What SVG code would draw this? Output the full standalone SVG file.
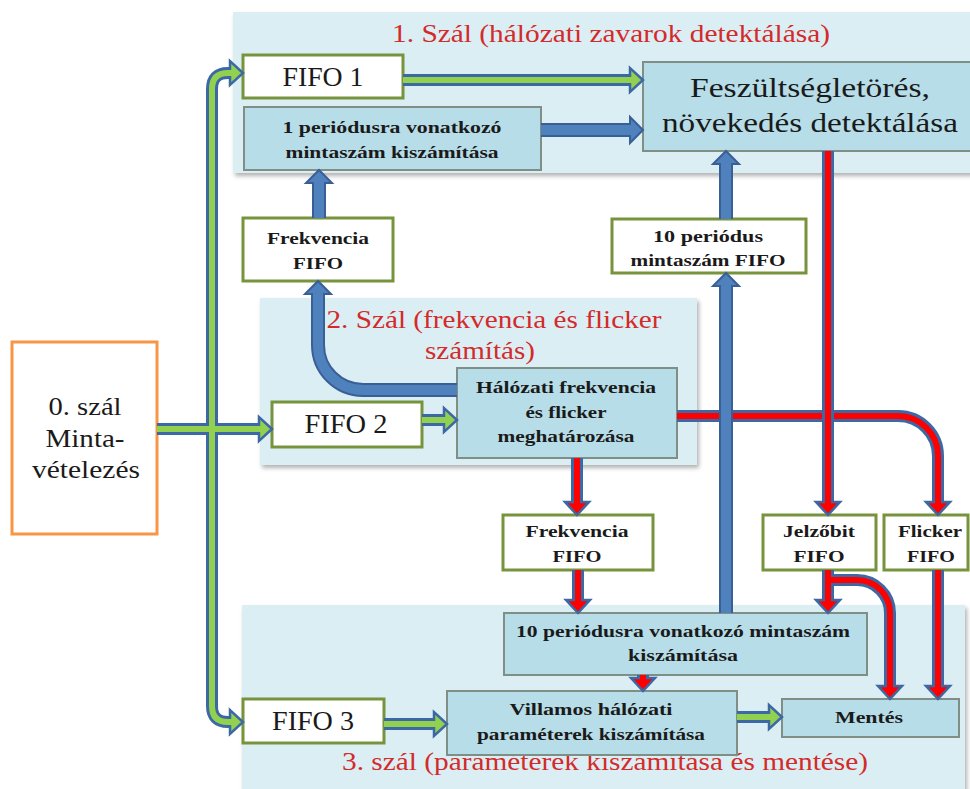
<svg xmlns="http://www.w3.org/2000/svg" width="970" height="789" viewBox="0 0 970 789" font-family="'Liberation Serif', 'Times New Roman', serif">
<defs>
<filter id="sh" x="-5%" y="-5%" width="110%" height="115%">
<feDropShadow dx="2" dy="3" stdDeviation="2" flood-color="#000" flood-opacity="0.3"/>
</filter>
<marker id="mg" markerUnits="userSpaceOnUse" orient="auto" viewBox="-2 -15 17 30" markerWidth="17" markerHeight="30" refX="0" refY="0" overflow="visible">
<path d="M0,-3 L0,-12 L13,0 L0,12 L0,3" fill="#92d050" stroke="#3c68a5" stroke-width="2.5" stroke-linejoin="miter"/>
</marker>
<marker id="mr" markerUnits="userSpaceOnUse" orient="auto" viewBox="-2 -15 17 30" markerWidth="17" markerHeight="30" refX="0" refY="0" overflow="visible">
<path d="M0,-3 L0,-12 L13,0 L0,12 L0,3" fill="#ff0000" stroke="#3c68a5" stroke-width="2.5" stroke-linejoin="miter"/>
</marker>
<marker id="mb" markerUnits="userSpaceOnUse" orient="auto" viewBox="-2 -15 17 30" markerWidth="17" markerHeight="30" refX="0" refY="0" overflow="visible">
<path d="M0,-5 L0,-13 L13,0 L0,13 L0,5" fill="#4f81bd" stroke="#3a5f96" stroke-width="2" stroke-linejoin="miter"/>
</marker>
</defs>
<style>
.panel{fill:#dbeef4;filter:url(#sh)}
.title{font-family:'Liberation Serif','Times New Roman',serif;fill:#d42a2a;text-anchor:middle}
.fifo{fill:#ffffff;stroke:#77933c;stroke-width:3}
.proc{fill:#b7dde8;stroke:#7f8f86;stroke-width:2}
.src{fill:#ffffff;stroke:#f79646;stroke-width:3}
.t{font-family:'Liberation Serif','Times New Roman',serif;fill:#1a1a1a;text-anchor:middle}
.b{font-weight:bold;font-size:17px}
.big{font-size:27px}
.go,.ro{fill:none;stroke:#3c68a5;stroke-width:12}
.gi{fill:none;stroke:#92d050;stroke-width:6}
.ri{fill:none;stroke:#ff0000;stroke-width:6}
.bo{fill:none;stroke:#3a5f96;stroke-width:14}
.bi{fill:none;stroke:#4f81bd;stroke-width:10}
.go{marker-end:url(#mg)}
.ro{marker-end:url(#mr)}
.bo{marker-end:url(#mb)}
</style>
<rect width="970" height="789" fill="#ffffff"/>

<g id="panel-1">
<rect class="panel" x="233" y="12" width="740" height="161"/>
<text class="title" x="611" y="42" font-size="25" textLength="438" lengthAdjust="spacingAndGlyphs">1. Szál (hálózati zavarok detektálása)</text>
</g>
<g id="panel-2">
<rect class="panel" x="260" y="298" width="437" height="167"/>
<text class="title" x="494" y="328" font-size="26" textLength="335" lengthAdjust="spacingAndGlyphs">2. Szál (frekvencia és flicker</text>
<text class="title" x="480" y="359" font-size="26" textLength="110" lengthAdjust="spacingAndGlyphs">számítás)</text>
</g>
<g id="panel-3">
<rect class="panel" x="242" y="605" width="723" height="190"/>
<text class="title" x="605" y="770" font-size="25" textLength="526" lengthAdjust="spacingAndGlyphs">3. szál (paraméterek kiszámítása és mentése)</text>
</g>

<g id="src">
<rect class="src" x="12" y="342" width="145" height="192"/>
<text class="t" x="85" y="415" font-size="26" textLength="73" lengthAdjust="spacingAndGlyphs">0. szál</text>
<text class="t" x="85" y="447" font-size="26" textLength="79" lengthAdjust="spacingAndGlyphs">Minta-</text>
<text class="t" x="86" y="478" font-size="26" textLength="108" lengthAdjust="spacingAndGlyphs">vételezés</text>
</g>
<g id="fifo1">
<rect class="fifo" x="243" y="55" width="160" height="43"/>
<text class="t big" x="323" y="86" textLength="81" lengthAdjust="spacingAndGlyphs">FIFO 1</text>
</g>
<g id="per1">
<rect class="proc" x="244" y="107" width="297" height="63"/>
<text class="t b" x="392" y="133" textLength="219" lengthAdjust="spacingAndGlyphs">1 periódusra vonatkozó</text>
<text class="t b" x="392" y="158" textLength="213" lengthAdjust="spacingAndGlyphs">mintaszám kiszámítása</text>
</g>
<g id="detect">
<rect class="proc" x="643" y="62" width="330" height="89"/>
<text class="t big" x="810" y="97" textLength="240" lengthAdjust="spacingAndGlyphs">Feszültségletörés,</text>
<text class="t big" x="810" y="132" textLength="296" lengthAdjust="spacingAndGlyphs">növekedés detektálása</text>
</g>
<g id="freqfifo1">
<rect class="fifo" x="243" y="218" width="150" height="63"/>
<text class="t b" x="318" y="244" textLength="102" lengthAdjust="spacingAndGlyphs">Frekvencia</text>
<text class="t b" x="318" y="269" textLength="50" lengthAdjust="spacingAndGlyphs">FIFO</text>
</g>
<g id="fifo10">
<rect class="fifo" x="612" y="219" width="194" height="54"/>
<text class="t b" x="708" y="242" textLength="110" lengthAdjust="spacingAndGlyphs">10 periódus</text>
<text class="t b" x="708" y="266" textLength="155" lengthAdjust="spacingAndGlyphs">mintaszám FIFO</text>
</g>
<g id="fifo2">
<rect class="fifo" x="272" y="402" width="150" height="45"/>
<text class="t big" x="346" y="433" textLength="83" lengthAdjust="spacingAndGlyphs">FIFO 2</text>
</g>
<g id="halo">
<rect class="proc" x="457" y="368" width="220" height="90"/>
<text class="t b" x="566" y="393" textLength="180" lengthAdjust="spacingAndGlyphs">Hálózati frekvencia</text>
<text class="t b" x="566" y="418" textLength="81" lengthAdjust="spacingAndGlyphs">és flicker</text>
<text class="t b" x="566" y="442" textLength="137" lengthAdjust="spacingAndGlyphs">meghatározása</text>
</g>
<g id="freqfifo2">
<rect class="fifo" x="503" y="515" width="150" height="55"/>
<text class="t b" x="577" y="537" textLength="103" lengthAdjust="spacingAndGlyphs">Frekvencia</text>
<text class="t b" x="577" y="562" textLength="49" lengthAdjust="spacingAndGlyphs">FIFO</text>
</g>
<g id="jelzo">
<rect class="fifo" x="763" y="515" width="113" height="55"/>
<text class="t b" x="819" y="537" textLength="72" lengthAdjust="spacingAndGlyphs">Jelzőbit</text>
<text class="t b" x="819" y="562" textLength="51" lengthAdjust="spacingAndGlyphs">FIFO</text>
</g>
<g id="flicker">
<rect class="fifo" x="884" y="515" width="84" height="55"/>
<text class="t b" x="930" y="537" textLength="64" lengthAdjust="spacingAndGlyphs">Flicker</text>
<text class="t b" x="931" y="562" textLength="48" lengthAdjust="spacingAndGlyphs">FIFO</text>
</g>
<g id="per10">
<rect class="proc" x="504" y="613" width="363" height="62"/>
<text class="t b" x="683" y="637" textLength="334" lengthAdjust="spacingAndGlyphs">10 periódusra vonatkozó mintaszám</text>
<text class="t b" x="683" y="661" textLength="110" lengthAdjust="spacingAndGlyphs">kiszámítása</text>
</g>
<g id="fifo3">
<rect class="fifo" x="243" y="699" width="141" height="44"/>
<text class="t big" x="313" y="730" textLength="82" lengthAdjust="spacingAndGlyphs">FIFO 3</text>
</g>
<g id="villamos">
<rect class="proc" x="447" y="691" width="290" height="64"/>
<text class="t b" x="591" y="715" textLength="163" lengthAdjust="spacingAndGlyphs">Villamos hálózati</text>
<text class="t b" x="591" y="740" textLength="228" lengthAdjust="spacingAndGlyphs">paraméterek kiszámítása</text>
</g>
<g id="mentes">
<rect class="proc" x="782" y="699" width="177" height="38"/>
<text class="t b" x="869" y="723" textLength="68" lengthAdjust="spacingAndGlyphs">Mentés</text>
</g>

<g id="connectors">
<path class="go" d="M212,429 V89 Q212,73 228,73 H230"/>
<path class="go" d="M212,429 V706 Q212,722 228,722 H230"/>
<path class="go" d="M157,429 H259"/>
<path class="gi" d="M212,429 V89 Q212,73 228,73 H230"/>
<path class="gi" d="M212,429 V706 Q212,722 228,722 H230"/>
<path class="gi" d="M157,429 H259"/>
<path class="go" d="M403,80 H630"/><path class="gi" d="M403,80 H630"/>
<path class="go" d="M422,420 H444"/><path class="gi" d="M422,420 H444"/>
<path class="go" d="M384,724 H434"/><path class="gi" d="M384,724 H434"/>
<path class="go" d="M737,717 H769"/><path class="gi" d="M737,717 H769"/>
<path class="bo" d="M541,130 H630"/><path class="bi" d="M541,130 H630"/>
<path class="bo" d="M319,218 V183"/><path class="bi" d="M319,218 V183"/>
<path class="bo" d="M457,390 H363 A45,45 0 0 1 318,345 V294"/><path class="bi" d="M457,390 H363 A45,45 0 0 1 318,345 V294"/>
<path class="ro" d="M677,416 H898 A40,40 0 0 1 938,456 V502"/><path class="ri" d="M677,416 H898 A40,40 0 0 1 938,456 V502"/>
<path class="bo" d="M726,613 V286"/><path class="bi" d="M726,613 V286"/>
<path class="bo" d="M726,219 V164"/><path class="bi" d="M726,219 V164"/>
<path class="ro" d="M828,151 V502"/><path class="ri" d="M828,151 V502"/>
<path class="ro" d="M577,458 V502"/><path class="ri" d="M577,458 V502"/>
<path class="ro" d="M578,570 V600"/><path class="ri" d="M578,570 V600"/>
<path class="ro" d="M643,675 V678"/><path class="ri" d="M643,675 V678"/>
<path class="ro" d="M828,580 H857 A33,33 0 0 1 890,613 V686"/>
<path class="ro" d="M828,570 V600"/>
<path class="ri" d="M828,580 H857 A33,33 0 0 1 890,613 V686"/>
<path class="ri" d="M828,570 V600"/>
<path class="ro" d="M938,570 V686"/><path class="ri" d="M938,570 V686"/>
</g>
</svg>
